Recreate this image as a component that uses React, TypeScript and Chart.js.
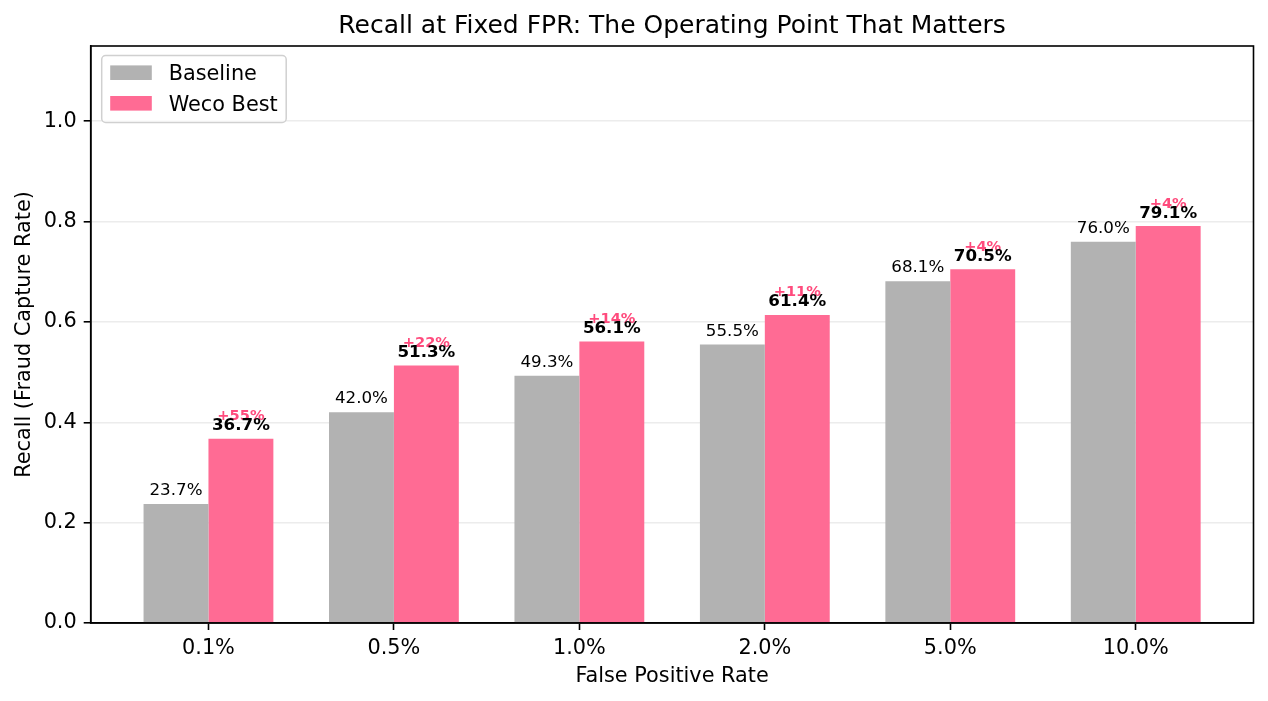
import React, { useEffect, useRef } from "react";
import { Chart, registerables } from "chart.js";

Chart.register(...registerables);

// False positive rate operating points (x categories)
const fprLevels = ["0.1%", "0.5%", "1.0%", "2.0%", "5.0%", "10.0%"];
// Recall at each operating point
const baselineRecall = [0.237, 0.42, 0.493, 0.555, 0.681, 0.76];
const wecoRecall = [0.367, 0.513, 0.561, 0.614, 0.705, 0.791];
// Relative lift of Weco Best over the baseline
const liftLabels = ["+55%", "+22%", "+14%", "+11%", "+4%", "+4%"];
// Y axis ticks
const yTicks = [0, 0.2, 0.4, 0.6, 0.8, 1.0];

const FONT = "'DejaVu Sans', sans-serif";
const GRAY = "#b2b2b2";
const PINK = "#ff6b94";
const PINK_TEXT = "#ff4b7d";
const TITLE = "Recall at Fixed FPR: The Operating Point That Matters";

const decorPlugin = {
  id: "decor",
  afterDatasetsDraw(chart: any) {
    const { ctx, chartArea } = chart;
    const { left, right, top, bottom } = chartArea;
    ctx.save();

    // axes frame (all four spines)
    ctx.strokeStyle = "#000";
    ctx.lineWidth = 1.6;
    ctx.strokeRect(left, top, right - left, bottom - top);

    // value labels above bars
    const metaB = chart.getDatasetMeta(0);
    const metaW = chart.getDatasetMeta(1);
    ctx.textAlign = "center";
    ctx.textBaseline = "alphabetic";
    baselineRecall.forEach((v, i) => {
      const el = metaB.data[i];
      ctx.fillStyle = "#000";
      ctx.font = `16.7px ${FONT}`;
      ctx.fillText(`${(v * 100).toFixed(1)}%`, el.x, el.y - 9);
    });
    wecoRecall.forEach((v, i) => {
      const el = metaW.data[i];
      ctx.fillStyle = PINK_TEXT;
      ctx.font = `bold 14.6px ${FONT}`;
      ctx.fillText(liftLabels[i], el.x, el.y - 18.5);
      ctx.fillStyle = "#000";
      ctx.font = `bold 16.7px ${FONT}`;
      ctx.fillText(`${(v * 100).toFixed(1)}%`, el.x, el.y - 8.5);
    });

    // title
    ctx.fillStyle = "#000";
    ctx.font = `25px ${FONT}`;
    ctx.fillText(TITLE, (left + right) / 2, top - 13);

    // legend
    const lx = left + 11;
    const ly = top + 9.5;
    const lw = 184.5;
    const lh = 67;
    ctx.beginPath();
    ctx.roundRect(lx, ly, lw, lh, 4);
    ctx.fillStyle = "rgba(255,255,255,0.8)";
    ctx.fill();
    ctx.strokeStyle = "#d0d0d0";
    ctx.lineWidth = 1.5;
    ctx.stroke();
    ctx.textAlign = "left";
    ctx.font = `20.8px ${FONT}`;
    chart.data.datasets.forEach((ds: any, k: number) => {
      const cy = ly + 17.2 + k * 30.6;
      ctx.fillStyle = ds.backgroundColor;
      ctx.fillRect(lx + 8.5, cy - 7.3, 41.6, 14.6);
      ctx.fillStyle = "#000";
      ctx.fillText(ds.label, lx + 67, cy + 7.5);
    });

    ctx.restore();
  },
};

export default function App() {
  const ref = useRef<HTMLCanvasElement>(null);

  useEffect(() => {
    const canvas = ref.current!;
    const chart = new Chart(canvas, {
      type: "bar",
      data: {
        datasets: [
          {
            label: "Baseline",
            data: baselineRecall.map((y, i) => ({ x: i, y })),
            backgroundColor: GRAY,
            borderWidth: 0,
          },
          {
            label: "Weco Best",
            data: wecoRecall.map((y, i) => ({ x: i, y })),
            backgroundColor: PINK,
            borderWidth: 0,
          },
        ],
      },
      options: {
        responsive: false,
        devicePixelRatio: 1,
        animation: false,
        events: [],
        categoryPercentage: 0.7,
        barPercentage: 1,
        layout: { padding: { top: 46, right: 14.5, left: 0, bottom: 0 } },
        plugins: {
          legend: { display: false },
          title: { display: false },
          tooltip: { enabled: false },
        },
        scales: {
          x: {
            type: "linear",
            offset: false,
            min: -0.635,
            max: 5.635,
            afterBuildTicks: (s: any) => {
              s.ticks = fprLevels.map((_, i) => ({ value: i }));
            },
            afterFit: (s: any) => {
              s.height = 78;
            },
            grid: {
              offset: false,
              drawOnChartArea: false,
              drawTicks: true,
              tickLength: 7,
              tickColor: "#000",
              tickWidth: 1.6,
            },
            border: { display: true, color: "#000", width: 1.6 },
            ticks: {
              color: "#000",
              padding: 6,
              font: { family: FONT, size: 20.8 },
              maxRotation: 0,
              autoSkip: false,
              callback: (v: any) => fprLevels[Math.round(Number(v))] ?? "",
            },
            title: {
              display: true,
              text: "False Positive Rate",
              color: "#000",
              font: { family: FONT, size: 20.8 },
              padding: { top: 0, bottom: 12 },
            },
          },
          y: {
            type: "linear",
            min: 0,
            max: 1.15,
            afterBuildTicks: (s: any) => {
              s.ticks = yTicks.map((value) => ({ value }));
            },
            afterFit: (s: any) => {
              s.width = 90.7;
            },
            grid: {
              color: "#ececec",
              lineWidth: 1.6,
              drawTicks: true,
              tickLength: 7,
              tickColor: "#000",
              tickWidth: 1.6,
            },
            border: { display: true, color: "#000", width: 1.6 },
            ticks: {
              color: "#000",
              padding: 7,
              font: { family: FONT, size: 20.8 },
              callback: (v: any) => Number(v).toFixed(1),
            },
            title: {
              display: true,
              text: "Recall (Fraud Capture Rate)",
              color: "#000",
              font: { family: FONT, size: 20.8 },
              padding: { top: 12, bottom: 0 },
            },
          },
        },
      },
      plugins: [decorPlugin],
    } as any);
    return () => chart.destroy();
  }, []);

  return (
    <div
      style={{
        position: "absolute",
        left: 0,
        top: 0,
        width: 1268,
        height: 701,
        background: "#fff",
      }}
    >
      <canvas
        ref={ref}
        width={1268}
        height={701}
        style={{ display: "block", width: 1268, height: 701 }}
      />
    </div>
  );
}
